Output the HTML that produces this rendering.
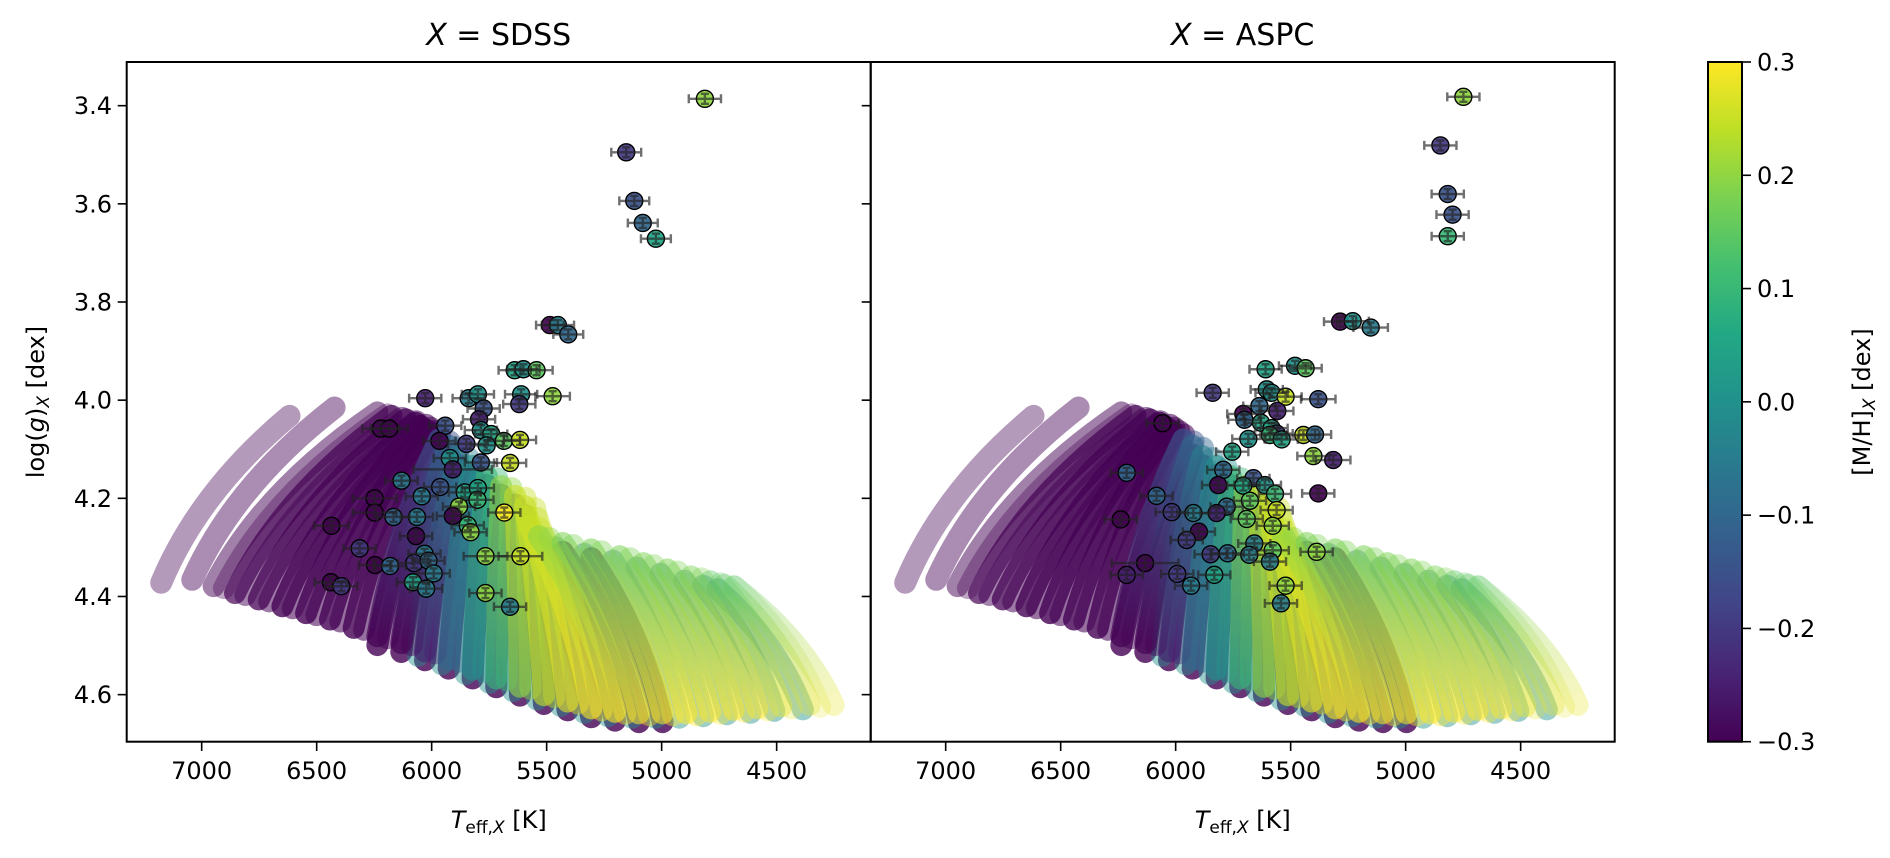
<!DOCTYPE html>
<html><head><meta charset="utf-8">
<style>
html,body{margin:0;padding:0;background:#fff;}
svg text{font-family:"DejaVu Sans","Liberation Sans",sans-serif;fill:#000;}
</style></head>
<body>
<svg id="chart" width="1890" height="853" viewBox="0 0 1890 853" xmlns="http://www.w3.org/2000/svg">
<defs>
<clipPath id="clip1"><rect x="126.7" y="62" width="744" height="679.7"/></clipPath>
<clipPath id="clip2"><rect x="870.7" y="62" width="744" height="679.7"/></clipPath>
<linearGradient id="cbgrad" x1="0" y1="1" x2="0" y2="0">
<stop offset="0" stop-color="#440154"/><stop offset="0.1" stop-color="#482475"/><stop offset="0.2" stop-color="#414487"/><stop offset="0.3" stop-color="#355f8d"/><stop offset="0.4" stop-color="#2a788e"/><stop offset="0.5" stop-color="#21918c"/><stop offset="0.6" stop-color="#22a884"/><stop offset="0.7" stop-color="#44bf70"/><stop offset="0.8" stop-color="#7ad151"/><stop offset="0.9" stop-color="#bddf26"/><stop offset="1" stop-color="#fde725"/>
</linearGradient>
</defs>
<g id="bg1" clip-path="url(#clip1)"></g>
<g id="bg2" clip-path="url(#clip2)"></g>
<g id="pts1"></g>
<g id="pts2"></g>
<rect x="126.7" y="62" width="744" height="679.7" fill="none" stroke="#000" stroke-width="2"/>
<rect x="870.7" y="62" width="744" height="679.7" fill="none" stroke="#000" stroke-width="2"/>
<g id="axes"></g>
<text x="498.7" y="45" font-size="30" text-anchor="middle"><tspan font-style="italic">X</tspan> = SDSS</text>
<text x="1242.7" y="45" font-size="30" text-anchor="middle"><tspan font-style="italic">X</tspan> = ASPC</text>
<text x="498.7" y="828" font-size="24" text-anchor="middle"><tspan font-style="italic">T</tspan><tspan font-size="17" dy="5">eff,</tspan><tspan font-size="17" font-style="italic">X</tspan><tspan dy="-5"> [K]</tspan></text>
<text x="1242.7" y="828" font-size="24" text-anchor="middle"><tspan font-style="italic">T</tspan><tspan font-size="17" dy="5">eff,</tspan><tspan font-size="17" font-style="italic">X</tspan><tspan dy="-5"> [K]</tspan></text>
<text transform="translate(44,402) rotate(-90)" font-size="24" text-anchor="middle">log(<tspan font-style="italic">g</tspan>)<tspan font-size="17" font-style="italic" dy="5">X</tspan><tspan dy="-5"> [dex]</tspan></text>
<rect x="1708" y="62" width="34" height="679.7" fill="url(#cbgrad)" stroke="#000" stroke-width="2"/>
<text transform="translate(1870,402) rotate(-90)" font-size="24" text-anchor="middle">[M/H]<tspan font-size="17" font-style="italic" dy="5">X</tspan><tspan dy="-5"> [dex]</tspan></text>
</svg>
<script>
// ---- data ----
const xTicks=[7000,6500,6000,5500,5000,4500];
const yTicks=[3.4,3.6,3.8,4.0,4.2,4.4,4.6];
const yTickLabels=["3.4","3.6","3.8","4.0","4.2","4.4","4.6"];
const cbTicks=[-0.3,-0.2,-0.1,0.0,0.1,0.2,0.3];
const cbTickLabels=["\u22120.3","\u22120.2","\u22120.1","0.0","0.1","0.2","0.3"];
// isochrone strands
const strandBotTeff=[7176,7041,6948,6855,6752,6649,6546,6442,6339,6236,6132,6029,5926,5822,5719,5616,5512,5409,5306,5203,5099,4996,4893,4789,4686,4583,4480,4356,4252];
const strandBotLogg=[4.372,4.366,4.379,4.393,4.406,4.420,4.434,4.447,4.464,4.481,4.495,4.512,4.529,4.549,4.567,4.584,4.601,4.614,4.628,4.635,4.638,4.638,4.638,4.635,4.631,4.628,4.624,4.621,4.621];
const strandTopTeff=[6618,6422,6236,6174,6112,6070,6050,6029,6008,5967,5926,5884,5822,5760,5698,5637,5595,5585,5575,5533,5430,5306,5182,5079,4975,4872,4789,4727,4686];
const strandTopLogg=[4.032,4.015,4.025,4.032,4.039,4.046,4.052,4.059,4.066,4.080,4.093,4.114,4.134,4.155,4.175,4.195,4.216,4.236,4.257,4.277,4.291,4.304,4.318,4.332,4.345,4.359,4.369,4.376,4.379];
const strandMHBot=[-0.3,-0.3,-0.3,-0.3,-0.3,-0.3,-0.3,-0.3,-0.3,-0.3,-0.3,-0.25,-0.1,0.0,0.1,0.2,0.25,0.28,0.3,0.3,0.3,0.3,0.3,0.3,0.3,0.3,0.28,0.28,0.28];
const strandMHTop=[-0.3,-0.3,-0.3,-0.3,-0.3,-0.3,-0.3,-0.3,-0.3,-0.15,-0.1,-0.05,0.0,0.1,0.2,0.25,0.25,0.25,0.25,0.2,0.18,0.18,0.18,0.18,0.18,0.18,0.15,0.15,0.15];
const strandAlpha=[0.4,0.45,0.5,0.7,0.75,0.8,0.8,0.8,0.8,0.7,0.65,0.6,0.6,0.6,0.6,0.6,0.6,0.6,0.6,0.6,0.55,0.55,0.55,0.5,0.5,0.45,0.4,0.32,0.3];
// SDSS stars
const s1Teff=[4812,5154,5119,5082,5025,5486,5451,5406,5639,5601,5544,6028,5839,5799,5611,5474,5619,5774,5794,6221,6184,5941,5966,5849,5786,5741,5761,5686,5616,5921,5786,5659,5908,6131,5963,6043,5856,5799,5801,5881,6248,6248,5684,6166,6064,5908,5843,5831,6436,6068,6313,6031,5766,5614,6246,6181,6076,6014,5991,6081,6024,6438,6393,5766,5659];
const s1Logg=[3.386,3.495,3.594,3.639,3.671,3.847,3.847,3.866,3.939,3.937,3.939,3.996,3.996,3.988,3.988,3.992,4.008,4.017,4.039,4.058,4.058,4.052,4.083,4.089,4.061,4.069,4.092,4.083,4.081,4.118,4.127,4.128,4.141,4.164,4.177,4.196,4.188,4.179,4.203,4.217,4.200,4.229,4.229,4.238,4.238,4.236,4.255,4.269,4.256,4.277,4.302,4.313,4.318,4.318,4.336,4.338,4.332,4.327,4.353,4.371,4.384,4.371,4.379,4.393,4.421];
const s1MH=[0.2,-0.2,-0.15,-0.1,0.05,-0.3,-0.05,-0.1,0.05,0.0,0.15,-0.25,-0.05,0.0,0.0,0.2,-0.2,-0.15,-0.25,-0.3,-0.3,-0.15,-0.3,-0.2,0.0,0.05,0.0,0.15,0.25,0.0,-0.15,0.25,-0.25,-0.05,-0.15,-0.05,0.05,0.05,0.1,0.2,-0.3,-0.3,0.3,-0.1,-0.05,-0.3,0.1,0.2,-0.3,-0.3,-0.2,-0.05,0.2,0.25,-0.3,-0.1,-0.2,-0.1,-0.05,0.05,-0.05,-0.3,-0.2,0.2,-0.05];
const s1Terr=[70,65,65,65,65,60,70,65,70,70,70,70,70,70,70,75,70,70,70,80,80,70,70,80,70,70,70,70,70,70,70,70,170,70,70,70,70,70,70,70,95,95,70,70,70,70,70,70,75,70,70,70,95,95,70,70,70,70,70,70,70,70,70,70,70];
// ASPC stars
const s2Teff=[4749,4849,4817,4796,4817,5285,5230,5152,5609,5481,5435,5839,5604,5583,5522,5380,5636,5558,5706,5701,5629,5583,5561,5590,5539,5445,5394,5684,6057,5754,5401,5315,6213,5793,5662,5815,5706,5612,5568,5380,6083,5677,5778,6017,5923,5822,5561,5691,6239,5578,5899,5952,5658,5848,5774,5680,5578,5387,5590,6133,6213,5993,5832,5933,5522,5542];
const s2Logg=[3.382,3.481,3.580,3.622,3.666,3.840,3.839,3.852,3.937,3.930,3.935,3.985,3.978,3.985,3.993,3.998,4.012,4.022,4.028,4.040,4.046,4.057,4.068,4.071,4.080,4.071,4.070,4.079,4.047,4.105,4.114,4.122,4.148,4.142,4.159,4.173,4.174,4.173,4.191,4.190,4.195,4.205,4.217,4.228,4.230,4.230,4.224,4.242,4.243,4.256,4.268,4.285,4.292,4.314,4.312,4.315,4.306,4.309,4.329,4.332,4.356,4.354,4.356,4.378,4.378,4.414];
const s2MH=[0.2,-0.2,-0.15,-0.15,0.1,-0.3,0.0,-0.05,0.05,0.0,0.15,-0.2,0.0,0.0,0.25,-0.15,-0.1,-0.25,-0.3,-0.1,0.05,0.05,-0.2,0.1,0.05,0.25,-0.1,0.0,-0.3,0.05,0.2,-0.25,-0.1,-0.1,-0.15,-0.3,0.05,0.0,0.1,-0.3,-0.1,0.15,-0.1,-0.2,-0.05,-0.25,0.25,0.15,-0.3,0.2,-0.3,-0.2,-0.05,-0.2,-0.1,-0.05,0.15,0.2,-0.05,-0.3,-0.25,-0.2,0.05,-0.05,0.2,-0.05];
const s2Terr=[70,70,70,70,70,70,70,75,70,70,70,70,70,70,70,75,70,70,70,70,70,70,70,70,70,70,70,70,70,70,70,75,70,70,70,70,70,70,70,70,70,70,70,70,70,70,70,70,70,70,70,70,70,70,70,70,70,70,70,145,70,70,70,70,70,70];
// ---- helpers ----
const NS="http://www.w3.org/2000/svg";
const VIR=["#440154","#482475","#414487","#355f8d","#2a788e","#21918c","#22a884","#44bf70","#7ad151","#bddf26","#fde725"];
function hex(h){return [1,3,5].map(i=>parseInt(h.substr(i,2),16));}
function cmap(v){let t=(v+0.3)/0.6;t=Math.max(0,Math.min(1,t));const f=t*10;const i=Math.min(9,Math.floor(f));const a=hex(VIR[i]),b=hex(VIR[i+1]);const u=f-i;return "rgb("+a.map((c,k)=>Math.round(c+(b[k]-c)*u)).join(",")+")";}
const X0=[126.7,870.7];
function xs(t,p){return X0[p]+(7326-t)*744/3235;}
function ys(g){return 62+(g-3.311)*490.8;}
function mk(tag,attrs,parent){const e=document.createElementNS(NS,tag);for(const k in attrs)e.setAttribute(k,attrs[k]);parent.appendChild(e);return e;}
const defs=document.querySelector("defs");
let gid=0;
// ---- isochrones ----
function drawStrand(g,p,i,dlogg,dteff,mhB,mhT,alpha){
  const bx=xs(strandBotTeff[i]+dteff,p),by=ys(strandBotLogg[i]+dlogg);
  const tx=xs(strandTopTeff[i]+dteff,p),ty=ys(strandTopLogg[i]+dlogg);
  const cx=bx+0.3*(tx-bx),cy=by+0.55*(ty-by);
  const id="sg"+(gid++);
  const gr=mk("linearGradient",{id:id,gradientUnits:"userSpaceOnUse",x1:bx,y1:by,x2:tx,y2:ty},defs);
  mk("stop",{offset:0,"stop-color":cmap(mhB)},gr);
  mk("stop",{offset:1,"stop-color":cmap(mhT)},gr);
  const path=mk("path",{d:"M"+bx+","+by+" Q"+cx+","+cy+" "+tx+","+ty,fill:"none",stroke:"url(#"+id+")","stroke-width":22,"stroke-linecap":"round","stroke-opacity":alpha},g);
  
  
}
[0,1].forEach(p=>{
  const g=document.getElementById("bg"+(p+1));
  for(let i=9;i<22;i++) drawStrand(g,p,i,0.018,0,-0.3,-0.3,0.8);
  for(let i=11;i<28;i++) drawStrand(g,p,i,0.009,30,0.0,-0.05,0.45);
  for(let i=0;i<strandBotTeff.length;i++){
    if(i>=2 && i<28) drawStrand(g,p,i,0.004,-45,strandMHBot[i],strandMHTop[i],strandAlpha[i]*0.7);
    drawStrand(g,p,i,0,0,strandMHBot[i],strandMHTop[i],strandAlpha[i]);
  }
});
// ---- stars ----
function drawStars(p,T,G,M,E){
  const g=document.getElementById("pts"+(p+1));
  for(let i=0;i<T.length;i++){
    const x=xs(T[i],p),y=ys(G[i]);
    const c=mk("circle",{cx:x,cy:y,r:8.5,fill:cmap(M[i]),stroke:"#000","stroke-width":1.4,"fill-opacity":0.92},g);
    
    
  }
  for(let i=0;i<T.length;i++){
    const x=xs(T[i],p),y=ys(G[i]);
    const dx=E[i]*744/3235,dy=5;
    const eb=mk("path",{d:"M"+(x-dx)+","+y+"H"+(x+dx)+"M"+x+","+(y-dy)+"V"+(y+dy)+"M"+(x-dx)+","+(y-4.5)+"V"+(y+4.5)+"M"+(x+dx)+","+(y-4.5)+"V"+(y+4.5)+"M"+(x-4)+","+(y-dy)+"H"+(x+4)+"M"+(x-4)+","+(y+dy)+"H"+(x+4),stroke:"#222","stroke-width":2.4,"stroke-opacity":0.65,fill:"none"},g);
    
    
  }
}
drawStars(0,s1Teff,s1Logg,s1MH,s1Terr);
drawStars(1,s2Teff,s2Logg,s2MH,s2Terr);
// ---- axes ----
const ax=document.getElementById("axes");
[0,1].forEach(p=>{
  xTicks.forEach(t=>{
    const x=xs(t,p);
    const l=mk("line",{x1:x,y1:741.7,x2:x,y2:751,stroke:"#000","stroke-width":1.6},ax);
    
    
    const tx=mk("text",{x:x,y:779,"font-size":24,"text-anchor":"middle"},ax);
    tx.textContent=t;
    
    
  });
  yTicks.forEach(v=>{
    const y=ys(v);
    const l=mk("line",{x1:X0[p]-9,y1:y,x2:X0[p],y2:y,stroke:"#000","stroke-width":1.6},ax);
    
    
  });
});
yTicks.forEach((v,i)=>{
  const tx=mk("text",{x:112,y:ys(v)+8.5,"font-size":24,"text-anchor":"end"},ax);
  tx.textContent=yTickLabels[i];
  
  
});
cbTicks.forEach((v,i)=>{
  const y=741.7-(v+0.3)/0.6*679.7;
  const l=mk("line",{x1:1742,y1:y,x2:1751,y2:y,stroke:"#000","stroke-width":1.6},ax);
  
  
  const tx=mk("text",{x:1757,y:y+8.5,"font-size":24},ax);
  tx.textContent=cbTickLabels[i];
  
  
});
</script>
</body></html>
